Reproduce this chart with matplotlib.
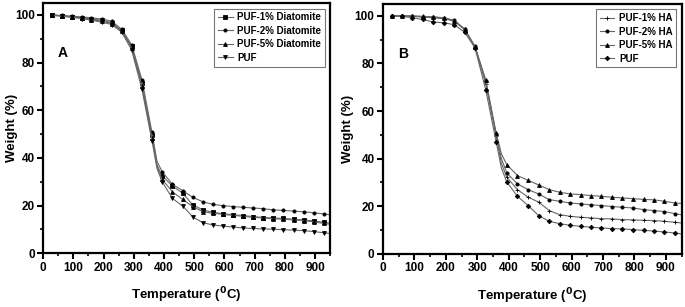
import matplotlib
matplotlib.use('Agg')
import matplotlib.pyplot as plt
from matplotlib.ticker import MultipleLocator

plt.rcParams['font.family'] = ['Liberation Sans', 'DejaVu Sans']
plt.rcParams['font.weight'] = 'bold'
plt.rcParams['mathtext.default'] = 'bf'

# temperature points (last one is the line end, 377 is only a line point)
temp = [28, 61, 94, 127, 160, 194, 227, 260, 293, 327, 360, 377, 394, 428, 462, 495,
        529, 562, 595, 629, 662, 695, 729, 762, 795, 829, 862, 895, 929, 948]

# panel A - diatomite
a_1 = [100, 99.7, 99.3, 98.9, 98.3, 97.8, 96.8, 93.5, 86.8, 71.5, 49.5, 37, 32.5, 28.2, 25.2, 20.3,
       18.2, 17.2, 16.6, 16.2, 15.8, 15.4, 15.0, 14.8, 14.6, 14.3, 14.0, 13.6, 13.0, 12.6]
a_2 = [100, 99.8, 99.5, 99.2, 98.8, 98.3, 97.4, 94.0, 87.5, 72.8, 50.8, 38.5, 34.2, 28.9, 26.3, 23.5,
       21.6, 20.5, 20.0, 19.6, 19.3, 19.0, 18.7, 18.2, 18.0, 17.7, 17.4, 17.0, 16.5, 16.2]
a_5 = [100, 99.6, 99.2, 98.7, 98.0, 97.4, 96.4, 93.2, 86.2, 70.2, 48.5, 36.5, 31.0, 25.8, 22.6, 19.6,
       17.4, 16.8, 16.3, 15.9, 15.5, 15.1, 14.8, 14.5, 14.3, 14.0, 13.7, 13.2, 12.5, 12.2]
a_puf = [99.8, 99.5, 99.0, 98.5, 97.8, 97.0, 96.0, 92.8, 85.3, 68.8, 47.3, 35.5, 30.0, 23.0, 19.8, 15.3,
         12.8, 11.9, 11.4, 11.0, 10.6, 10.4, 10.2, 10.1, 9.9, 9.7, 9.5, 9.1, 8.6, 8.3]

# panel B - HA
b_1 = [100, 100, 99.8, 99.5, 99.2, 98.8, 97.8, 94.2, 87.0, 71.5, 49.5, 38, 32.2, 27.0, 23.8, 21.8,
       18.2, 16.5, 15.8, 15.4, 15.1, 14.8, 14.7, 14.4, 14.3, 14.1, 14.0, 13.7, 13.3, 13.0]
b_2 = [100, 100, 99.9, 99.7, 99.5, 99.1, 98.2, 94.5, 87.2, 72.5, 50.5, 40, 34.0, 29.4, 27.0, 25.2,
       22.8, 22.1, 21.4, 21.0, 20.6, 20.3, 19.9, 19.6, 19.3, 18.6, 18.2, 17.8, 16.9, 16.5]
b_5 = [100, 100, 100, 99.8, 99.6, 99.2, 98.0, 94.3, 87.0, 73.2, 50.9, 42, 37.5, 32.9, 30.9, 29.0,
       27.0, 25.9, 25.2, 24.9, 24.5, 24.2, 23.8, 23.5, 23.2, 22.9, 22.7, 22.1, 21.4, 21.2]
b_puf = [100, 99.8, 99.2, 98.5, 97.4, 97.1, 96.3, 93.1, 86.5, 69.0, 47.2, 36, 30.2, 24.2, 20.3, 16.1,
         13.7, 12.7, 12.0, 11.6, 11.2, 10.9, 10.6, 10.5, 10.2, 9.9, 9.6, 9.2, 8.8, 8.4]

labels_a = ['PUF-1% Diatomite', 'PUF-2% Diatomite', 'PUF-5% Diatomite', 'PUF']
labels_b = ['PUF-1% HA', 'PUF-2% HA', 'PUF-5% HA', 'PUF']

marks = [i for i in range(len(temp)) if i not in (11, len(temp) - 1)]

fig = plt.figure(figsize=(6.85, 3.07), dpi=100)
axA = fig.add_axes([0.063, 0.175, 0.419, 0.815])
axB = fig.add_axes([0.559, 0.173, 0.436, 0.814])


def panel(ax, series, labels, markers, sizes, letter, ylab_x):
    for y, lab, m, s in zip(series, labels, markers, sizes):
        ax.plot(temp, y, color='#666666', lw=0.8, marker=m, ms=s, mfc='black', mec='black',
                mew=0.6, markevery=marks, label=lab)
    ax.set_xlim(0, 950)
    ax.set_ylim(0, 105)
    ax.xaxis.set_major_locator(MultipleLocator(100))
    ax.xaxis.set_minor_locator(MultipleLocator(50))
    ax.yaxis.set_major_locator(MultipleLocator(20))
    ax.yaxis.set_minor_locator(MultipleLocator(10))
    ax.tick_params(which='major', direction='out', length=4, width=1.5, labelsize=8.5, pad=2)
    ax.tick_params(which='minor', direction='out', length=2.5, width=1.2)
    ax.tick_params(top=False, right=False)
    for sp in ax.spines.values():
        sp.set_linewidth(1.6)
    for t in ax.get_xticklabels() + ax.get_yticklabels():
        t.set_fontweight('bold')
    ax.set_xlabel('Temperature ($^{0}$C)', fontsize=9.5, fontweight='bold', va='center')
    ax.xaxis.set_label_coords(0.5, -0.168)
    ax.set_ylabel('Weight (%)', fontsize=9.5, fontweight='bold', va='center')
    ax.yaxis.set_label_coords(ylab_x, 0.5)
    ax.text(0.052, 0.785, letter, transform=ax.transAxes, fontsize=10, fontweight='bold')
    leg = ax.legend(loc='upper right', bbox_to_anchor=(0.983, 0.978), borderaxespad=0,
                    fontsize=7, handlelength=1.5, handletextpad=0.5, labelspacing=0.35,
                    borderpad=0.4, fancybox=False, framealpha=1)
    leg.get_frame().set_edgecolor('#777777')
    leg.get_frame().set_linewidth(0.8)
    for t in leg.get_texts():
        t.set_fontweight('bold')


panel(axA, [a_1, a_2, a_5, a_puf], labels_a, ['s', 'o', '^', 'v'], [2.3, 2.3, 2.8, 2.8], 'A', -0.108)
panel(axB, [b_1, b_2, b_5, b_puf], labels_b, ['+', 'o', '^', 'D'], [3, 2.3, 2.8, 2.3], 'B', -0.117)

fig.savefig('out.png', dpi=100)
